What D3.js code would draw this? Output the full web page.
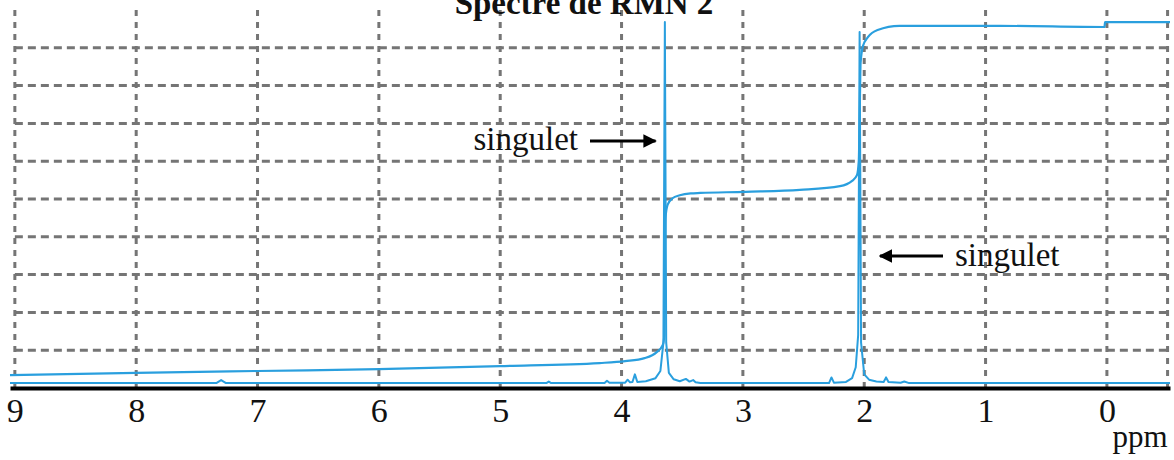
<!DOCTYPE html>
<html>
<head>
<meta charset="utf-8">
<script src="https://cdn.jsdelivr.net/npm/d3@7"></script>
<style>
  body { margin: 0; background: #fff; }
  text { font-family: "Liberation Serif", "DejaVu Serif", serif; }
</style>
</head>
<body>
<div id="chart"></div>
<script>
const svgwidth = 1174;
const svgheight = 460;

// axis ticks and grid
var ppmTicks = [9, 8, 7, 6, 5, 4, 3, 2, 1, 0];
var gridPpm = [9, 8, 7, 6, 5, 4, 3, 2, 1, 0, -0.5];
var gridLevels = [10, 20, 30, 40, 50, 60, 70, 80, 90];

// spectrum (ppm, intensity in grid units)
var spectrumPpm = [9.04, 7.34, 7.30, 7.26, 4.62, 4.60, 4.58, 4.14, 4.12, 4.10,
  3.97, 3.95, 3.93, 3.91, 3.89, 3.87, 3.80, 3.72, 3.68, 3.655, 3.643, 3.632,
  3.61, 3.57, 3.52, 3.47, 3.44, 3.41, 3.39, 3.35, 2.29, 2.27, 2.25, 2.15, 2.10,
  2.07, 2.05, 2.038, 2.026, 2.00, 1.96, 1.90, 1.84, 1.82, 1.80, 1.70, 1.67, 1.63, -0.52];
var spectrumInt = [1.3, 1.3, 2.1, 1.3, 1.3, 1.7, 1.3, 1.3, 1.9, 1.4,
  1.4, 2.2, 1.5, 1.6, 3.6, 1.6, 1.8, 2.6, 4.5, 12, 96.8, 12,
  4.0, 2.3, 1.8, 2.4, 1.7, 2.1, 1.5, 1.3, 1.3, 2.8, 1.4, 1.6, 2.6,
  5.5, 14, 94.2, 12, 3.6, 2.2, 1.7, 1.6, 2.8, 1.6, 1.4, 1.7, 1.3, 1.3];

// integration curve
var integralPpm = [9.04, 8.0, 7.0, 6.0, 5.0, 4.18, 3.97, 3.81, 3.71, 3.66, 3.647,
  3.643, 3.638, 3.62, 3.58, 3.52, 3.43, 3.35, 2.98, 2.53, 2.20, 2.10, 2.06,
  2.045, 2.036, 2.03, 2.01, 1.97, 1.89, 1.71, 0.88, 0.02, 0.015, -0.52];
var integralVal = [3.4, 4.0, 4.5, 5.0, 5.8, 6.6, 7.1, 7.9, 9.5, 11.4, 14,
  34, 45, 48.5, 50.2, 51.0, 51.5, 51.6, 51.9, 52.4, 53.4, 54.8, 56.3,
  60, 75, 86, 90.5, 92.8, 94.7, 95.8, 95.8, 95.5, 96.8, 96.8];

// annotations
var annoText = ["singulet", "singulet"];

var svg = d3.select("#chart")
  .append("svg")
  .attr("width", svgwidth)
  .attr("height", svgheight);

var x = d3.scaleLinear()
  .domain([9.04, -0.52])
  .range([10, 1170]);
var y = d3.scaleLinear()
  .domain([0, 100])
  .range([388, 10]);

// dashed grid
svg.append("g").selectAll("line")
  .data(gridLevels)
  .enter()
  .append("line")
  .attr("x1", x(9))
  .attr("x2", x(-0.5))
  .attr("y1", d => y(d))
  .attr("y2", d => y(d))
  .attr("stroke", "#757575")
  .attr("stroke-width", 3)
  .attr("stroke-dasharray", "8,5");

svg.append("g").selectAll("line")
  .data(gridPpm)
  .enter()
  .append("line")
  .attr("x1", d => x(d))
  .attr("x2", d => x(d))
  .attr("y1", y(0))
  .attr("y2", y(100))
  .attr("stroke", "#757575")
  .attr("stroke-width", 3)
  .attr("stroke-dasharray", "6,6");

// traces
var blue = "#2a9fde";
var line = d3.line()
  .x(d => x(d[0]))
  .y(d => y(d[1]));

svg.append("path")
  .datum(d3.zip(integralPpm, integralVal))
  .attr("fill", "none")
  .attr("stroke", blue)
  .attr("stroke-width", 2.2)
  .attr("stroke-linejoin", "round")
  .attr("d", line.curve(d3.curveMonotoneX));

svg.append("path")
  .datum(d3.zip(spectrumPpm, spectrumInt))
  .attr("fill", "none")
  .attr("stroke", blue)
  .attr("stroke-width", 2)
  .attr("stroke-linejoin", "round")
  .attr("d", line.curve(d3.curveLinear));

// x axis
var bottom = d3.axisBottom(x)
  .tickValues(ppmTicks)
  .tickSize(0)
  .tickPadding(10)
  .tickFormat(d3.format("d"));
var ax = svg.append("g")
  .attr("transform", `translate(0, ${y(0)})`)
  .call(bottom);
ax.select(".domain")
  .attr("stroke", "#000")
  .attr("stroke-width", 4);
ax.selectAll("text")
  .attr("font-family", "Liberation Serif, serif")
  .attr("font-size", 34)
  .attr("fill", "#111");

svg.append("text")
  .attr("x", x(-0.5))
  .attr("y", 447)
  .attr("text-anchor", "end")
  .attr("font-size", 31)
  .attr("fill", "#111")
  .text("ppm");

// title (cut off at top like the original)
svg.append("text")
  .attr("x", 584)
  .attr("y", 14)
  .attr("text-anchor", "middle")
  .attr("font-size", 33)
  .attr("font-weight", "bold")
  .attr("fill", "#111")
  .text("Spectre de RMN 2");

// annotations with arrows
svg.append("defs").append("marker")
  .attr("id", "head")
  .attr("viewBox", "0 0 10 10")
  .attr("refX", 9)
  .attr("refY", 5)
  .attr("markerWidth", 4.5)
  .attr("markerHeight", 4.5)
  .attr("orient", "auto")
  .append("path")
  .attr("d", "M0,0 L10,5 L0,10 z")
  .attr("fill", "#000");

svg.append("text")
  .attr("x", 578)
  .attr("y", 150)
  .attr("text-anchor", "end")
  .attr("font-size", 33)
  .attr("fill", "#111")
  .text(annoText[0]);
svg.append("line")
  .attr("x1", 590).attr("y1", 141)
  .attr("x2", x(3.72)).attr("y2", 141)
  .attr("stroke", "#000")
  .attr("stroke-width", 3)
  .attr("marker-end", "url(#head)");

svg.append("line")
  .attr("x1", 943).attr("y1", 256)
  .attr("x2", x(1.87)).attr("y2", 256)
  .attr("stroke", "#000")
  .attr("stroke-width", 3)
  .attr("marker-end", "url(#head)");
svg.append("text")
  .attr("x", 955)
  .attr("y", 266)
  .attr("font-size", 33)
  .attr("fill", "#111")
  .text(annoText[1]);
</script>
</body>
</html>
